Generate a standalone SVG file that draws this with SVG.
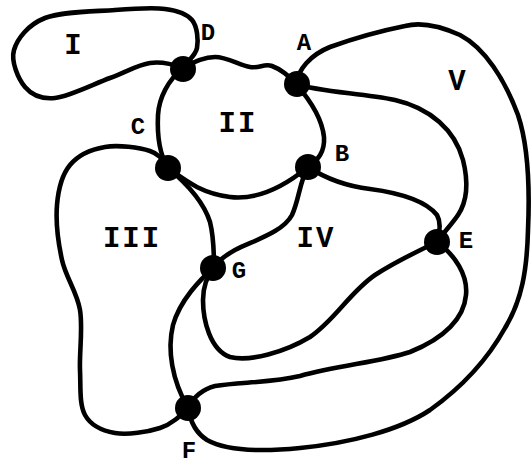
<svg xmlns="http://www.w3.org/2000/svg" width="532" height="465" viewBox="0 0 532 465">
  <style>
    .edge { fill: none; stroke: #000; stroke-width: 4.6; stroke-linecap: round; stroke-linejoin: round; }
    .vertex { fill: #000; }
    .region { font-family: "Liberation Mono", "DejaVu Sans Mono", monospace; font-weight: bold; font-size: 29px; fill: #000; text-anchor: middle; letter-spacing: 2px; }
    .vlabel { font-family: "Liberation Mono", "DejaVu Sans Mono", monospace; font-weight: bold; font-size: 24px; fill: #000; text-anchor: middle; }
  </style>
  <rect width="532" height="465" fill="#fff"/>

  <!-- edges of the planar graph -->
  <g id="edges">
    <!-- loop at D bounding region I -->
    <path id="e-D-D" class="edge" d="M183,68 C188,60 195.5,56 197,48 C198.5,40 197.3,26.5 192,20 C186.7,13.5 177.8,10.7 165,9 C152.2,7.3 135,8.5 115,10 C95,11.5 61.8,11.3 45,18 C28.2,24.7 17.3,38.5 14,50 C10.7,61.5 18.2,79 25,87 C31.8,95 40.8,99.5 55,98 C69.2,96.5 94.2,83.8 110,78 C125.8,72.2 137.8,64.7 150,63 C162.2,61.3 175,65 183,68"/>
    <path id="e-D-A" class="edge" d="M183,68 C193,62 203.8,57.2 215,57 C226.2,56.8 240.5,65.5 250,67 C259.5,68.5 264.3,63.2 272,66 C279.7,68.8 290,76 296,84"/>
    <path id="e-D-C" class="edge" d="M183,68 C168,80 159,98 158,115 C157,135 160,155 168,168"/>
    <path id="e-C-B" class="edge" d="M168,168 C185,180 200,193 230,197 C255,200 280,190 308,167"/>
    <path id="e-A-B" class="edge" d="M296,84 C310,100 322,118 324,137 C325,152 318,160 308,167"/>
    <path id="e-A-E" class="edge" d="M296,84 C320,92 360,93 395,100 C430,108 455,130 463,160 C468,180 468,200 458,215 C452,224 444,232 437,242"/>
    <path id="e-B-E" class="edge" d="M308,167 C325,178 345,186 370,189 C400,193 425,200 437,215 C441,222 440,232 437,242"/>
    <path id="e-B-G" class="edge" d="M308,167 C300,180 299,200 292,215 C283,232 255,240 235,250 C226,255 219,260 214,267"/>
    <path id="e-C-G" class="edge" d="M168,168 C185,182 203,200 210,222 C214,238 214,255 214,267"/>
    <!-- loop bounding region III -->
    <path id="e-C-F" class="edge" d="M168,168 C163,161 160.5,154.5 150,151 C139.5,147.5 118.3,144.7 105,147 C91.7,149.3 78,155.3 70,165 C62,174.7 58.3,189.2 57,205 C55.7,220.8 58.2,242.5 62,260 C65.8,277.5 77,291.7 80,310 C83,328.3 79.2,352.5 80,370 C80.8,387.5 79.2,404.5 85,415 C90.8,425.5 102.5,430.8 115,433 C127.5,435.2 147.8,432 160,428 C172.2,424 180,416 188,408"/>
    <path id="e-G-F" class="edge" d="M214,267 C200,280 180,300 173,325 C167,350 172,380 188,408"/>
    <path id="e-E-G" class="edge" d="M437,242 C420,250 395,262 375,275 C350,292 335,320 310,337 C285,352 250,362 230,357 C210,350 203,320 203,300 C203,288 207,276 214,267"/>
    <path id="e-E-F" class="edge" d="M437,242 C455,255 468,275 466,295 C464,318 445,338 410,352 C380,362 340,365 300,376 C270,383 240,382 215,386 C200,390 192,400 188,408"/>
    <!-- outer edge enclosing region V -->
    <path id="e-A-F" class="edge" d="M296,84 C298,70 310,55 330,47 C355,38 385,30 405,26 C420,22 440,26 460,35 C485,48 505,80 518,115 C528,145 530,185 528,230 C527,270 522,300 505,328 C490,355 465,385 430,410 C400,430 350,443 300,448 C260,452 225,450 207,440 C196,433 190,420 188,408"/>
  </g>

  <!-- vertices -->
  <g id="node-A"><circle class="vertex" cx="297" cy="84" r="13"/><text class="vlabel" x="304" y="50">A</text></g>
  <g id="node-B"><circle class="vertex" cx="308" cy="167" r="13"/><text class="vlabel" x="342" y="161">B</text></g>
  <g id="node-C"><circle class="vertex" cx="168" cy="168" r="13"/><text class="vlabel" x="138" y="134">C</text></g>
  <g id="node-D"><circle class="vertex" cx="183" cy="69" r="13"/><text class="vlabel" x="208" y="40">D</text></g>
  <g id="node-E"><circle class="vertex" cx="437" cy="242" r="13"/><text class="vlabel" x="466" y="248">E</text></g>
  <g id="node-F"><circle class="vertex" cx="188" cy="408" r="13"/><text class="vlabel" x="189" y="458">F</text></g>
  <g id="node-G"><circle class="vertex" cx="213" cy="268" r="13"/><text class="vlabel" x="239" y="278">G</text></g>

  <!-- face labels -->
  <g id="faces">
    <text class="region" x="74" y="54">I</text>
    <text class="region" x="238" y="132">II</text>
    <text class="region" x="132" y="247">III</text>
    <text class="region" x="316" y="247">IV</text>
    <text class="region" x="458" y="90">V</text>
  </g>
</svg>
